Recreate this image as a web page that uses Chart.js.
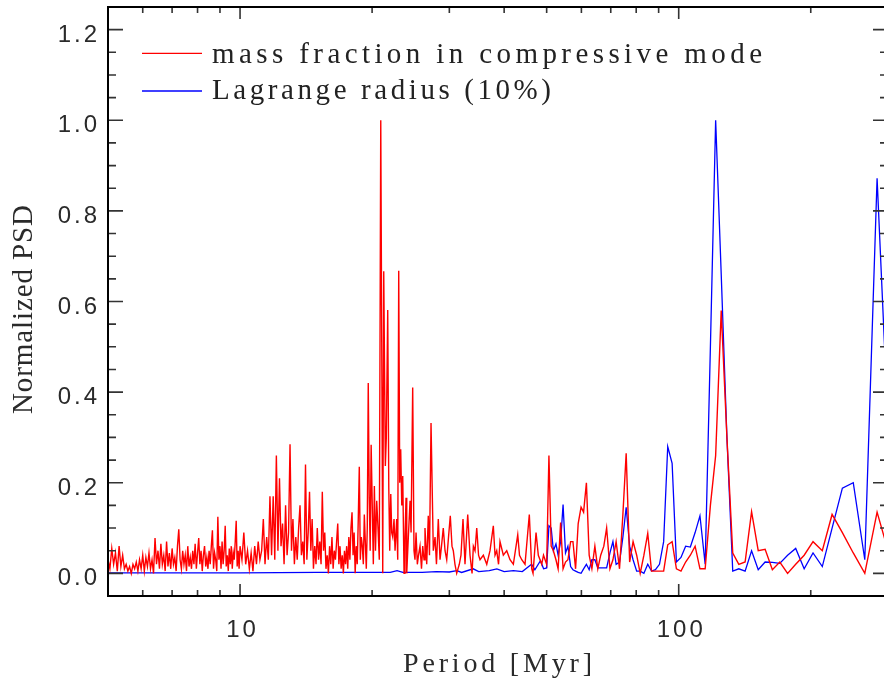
<!DOCTYPE html>
<html>
<head>
<meta charset="utf-8">
<title>Normalized PSD</title>
<script src="https://cdn.jsdelivr.net/npm/chart.js@4.4.0/dist/chart.umd.min.js"></script>
<style>
  html, body { margin: 0; padding: 0; background: #fff; overflow: hidden; }
  canvas { display: block; }
</style>
</head>
<body>
<canvas id="psd" width="892" height="682"></canvas>
<script>
// periods in Myr, PSD normalised to the highest peak
const redPeriodA = [
  5.00,5.05,5.10,5.15,5.20,5.25,5.30,5.35,5.40,5.45,
  5.50,5.55,5.60,5.65,5.70,5.75,5.80,5.85,5.90,5.95,
  6.00,6.05,6.10,6.15,6.20,6.25,6.30,6.35,6.40,6.45,
  6.50,6.55,6.60,6.65,6.70,6.75,6.80,6.85,6.90,6.95,
  7.00,7.05,7.10,7.15,7.20,7.25,7.30,7.35,7.40,7.45,
  7.50,7.55,7.60,7.65,7.70,7.75,7.80,7.85,7.90,7.95,
  8.00,8.05,8.10,8.15,8.20,8.25,8.30,8.35,8.40,8.45,
  8.50,8.55,8.60,8.65,8.70,8.75,8.80,8.85,8.90,8.95,
  9.00,9.05,9.10,9.15,9.20,9.25,9.30,9.35,9.40,9.45,
  9.50,9.55,9.60,9.65,9.70,9.75,9.80,9.85,9.90,9.95,
  10.00
];
const redPsdA = [
  0.03,0.01,0.055,0.02,0.045,0.005,0.06,0.015,0.04,0.01,
  0.02,0.005,0.015,0.0,0.02,0.01,0.025,0.005,0.03,0.01,
  0.04,0.005,0.035,0.015,0.045,0.01,0.03,0.0,0.078,0.02,
  0.05,0.01,0.065,0.02,0.04,0.005,0.07,0.015,0.045,0.01,
  0.055,0.02,0.035,0.005,0.06,0.097,0.03,0.01,0.05,0.02,
  0.04,0.005,0.06,0.015,0.035,0.01,0.05,0.02,0.065,0.01,
  0.045,0.078,0.02,0.05,0.005,0.04,0.06,0.015,0.035,0.01,
  0.05,0.02,0.06,0.095,0.01,0.045,0.03,0.005,0.125,0.03,
  0.06,0.01,0.07,0.02,0.05,0.105,0.015,0.04,0.005,0.055,
  0.02,0.06,0.01,0.045,0.03,0.07,0.116,0.015,0.05,0.01,
  0.06
];

const redPeriodB = [
  10.1,10.2,10.3,10.4,10.5,10.6,10.7,10.8,10.9,11.0,
  11.1,11.2,11.3,11.4,11.5,11.6,11.7,11.8,11.9,12.0,
  12.1,12.2,12.3,12.4,12.5,12.6,12.7,12.8,12.9,13.0,
  13.1,13.2,13.3,13.4,13.5,13.6,13.7,13.8,13.9,14.0,
  14.1,14.2,14.3,14.4,14.5,14.6,14.7,14.8,14.9,15.0,
  15.1,15.2,15.3,15.4,15.5,15.6,15.7,15.8,15.9,16.0,
  16.1,16.2,16.3,16.4,16.5,16.6,16.7,16.8,16.9,17.0,
  17.1,17.2,17.3,17.4,17.5,17.6,17.7,17.8,17.9,18.0,
  18.1,18.2,18.3,18.4,18.5,18.6,18.7,18.8,18.9,19.0,
  19.1,19.2,19.3,19.4,19.5,19.6,19.7,19.8,19.9
];
const redPsdB = [
  0.03,0.09,0.02,0.05,0.01,0.045,0.005,0.06,0.02,0.07,
  0.03,0.05,0.12,0.02,0.08,0.03,0.17,0.04,0.17,0.03,
  0.26,0.05,0.21,0.06,0.11,0.02,0.15,0.04,0.09,0.285,
  0.05,0.12,0.02,0.08,0.03,0.1,0.15,0.04,0.07,0.02,
  0.24,0.03,0.09,0.18,0.05,0.12,0.01,0.06,0.02,0.1,
  0.03,0.07,0.02,0.18,0.05,0.09,0.01,0.04,0.0,0.06,
  0.02,0.08,0.01,0.05,0.03,0.07,0.11,0.02,0.06,0.01,
  0.04,0.0,0.05,0.02,0.06,0.01,0.08,0.03,0.1,0.135,
  0.04,0.09,0.0,0.06,0.02,0.12,0.235,0.03,0.08,0.06,
  0.02,0.13,0.07,0.01,0.1,0.42,0.17,0.05,0.284
];

const redPeriodC = [
  20.13,20.24,20.36,20.49,20.63,20.77,20.93,21.15,21.26,21.44,
  21.55,21.71,21.83,21.94,22.06,22.17,22.29,22.44,22.56,22.76,
  22.88,23.00,23.12,23.24,23.37,23.49,23.65,23.77,23.90,23.99,
  24.19,24.41,24.54,24.75,24.92,25.05,25.19,25.36,25.52,25.72,
  25.92,26.09,26.27,26.40,26.64,26.86,27.03,27.25,27.58,27.83,
  28.04,28.31,28.57,28.79,29.06,29.33,29.59,29.87,30.15,30.42,
  30.63,30.90,31.18,31.61,31.89,32.23,32.57,33.04,33.44,33.80,
  34.03,34.33,34.64,34.97,35.24,35.86,36.51,37.14,37.79,38.13,
  38.47,38.84,39.14,39.83,40.55,41.25,41.98,42.96,43.36,43.87,
  44.63,45.65,46.23,46.55,47.29,47.86,48.72,49.18
];
const redPsdC = [
  0.02,0.193,0.05,0.16,0.1,0.03,1.0,0.0,0.667,0.237,
  0.3,0.581,0.19,0.05,0.175,0.09,0.08,0.12,0.05,0.12,
  0.03,0.668,0.2,0.274,0.15,0.215,0.0,0.08,0.167,0.0,
  0.08,0.16,0.09,0.41,0.05,0.03,0.09,0.02,0.04,0.06,
  0.01,0.06,0.03,0.1,0.02,0.127,0.04,0.332,0.05,0.08,
  0.02,0.12,0.03,0.06,0.1,0.05,0.03,0.08,0.127,0.06,
  0.05,0.02,0.0,0.02,0.04,0.12,0.02,0.13,0.04,0.0,
  0.06,0.05,0.1,0.04,0.03,0.04,0.02,0.05,0.105,0.04,
  0.05,0.02,0.07,0.04,0.05,0.03,0.02,0.085,0.04,0.03,
  0.02,0.13,0.01,0.0,0.09,0.04,0.02,0.04
];

// long periods, shared by both curves
const longPeriod = [
  50.0,50.6,51.2,51.8,52.5,53.1,53.8,54.5,55.2,55.9,
  56.7,57.4,58.2,59.0,59.9,60.7,61.6,62.5,63.4,64.4,
  65.4,66.4,67.5,68.5,69.7,70.8,72.0,73.3,74.6,75.9,
  77.3,78.7,80.2,81.7,83.3,85.0,86.7,88.5,90.4,92.4,
  94.4,96.6,98.8,101.2,103.7,106.3,109.0,111.8,114.9,118.1,
  121.4,125.0,128.8,132.8,137.1,141.7,146.6,151.8,157.4,163.5,
  170.0,177.1,184.8,193.2,202.4,212.5,223.7,236.1,250.0,265.6,
  283.3,303.6
];
const redPsdLong = [
  0.02,0.26,0.06,0.05,0.03,0.01,0.112,0.01,0.025,0.03,
  0.07,0.07,0.01,0.11,0.146,0.135,0.2,0.04,0.01,0.06,
  0.01,0.04,0.06,0.1,0.01,0.03,0.07,0.01,0.13,0.265,
  0.025,0.07,0.04,0.0,0.04,0.088,0.005,0.005,0.005,0.005,
  0.063,0.07,0.01,0.005,0.025,0.04,0.06,0.01,0.01,0.15,
  0.26,0.58,0.3,0.045,0.02,0.025,0.136,0.05,0.053,0.008,
  0.025,0.0,0.02,0.04,0.07,0.05,0.13,0.09,0.045,0.0,
  0.135,0.033
];
const bluePsdLong = [
  0.012,0.105,0.1,0.05,0.065,0.04,0.07,0.152,0.045,0.06,
  0.015,0.008,0.005,0.002,0.0,0.01,0.02,0.008,0.03,0.03,
  0.012,0.012,0.012,0.012,0.045,0.07,0.02,0.025,0.08,0.146,
  0.06,0.03,0.005,0.005,0.0,0.02,0.005,0.008,0.02,0.07,
  0.28,0.243,0.025,0.035,0.06,0.058,0.09,0.127,0.02,0.5,
  1.0,0.66,0.3,0.005,0.01,0.005,0.05,0.008,0.025,0.024,
  0.022,0.04,0.055,0.01,0.045,0.015,0.1,0.188,0.2,0.03,
  0.872,0.215
];

const bluePeriodA = [5.0,10.0,15.0,20.0,22.0,22.8,23.5,26.0,28.0,30.0,31.2,32.0,34.0,35.0,37.0,38.5,40.0,42.0,44.0,46.2,47.0,48.4,49.2];
const bluePsdA = [0.001,0.001,0.002,0.002,0.002,0.006,0.002,0.002,0.004,0.003,0.006,0.002,0.01,0.004,0.006,0.01,0.004,0.006,0.004,0.02,0.008,0.028,0.01];

const seriesLabels = ['mass fraction in compressive mode', 'Lagrange radius (10%)'];
const xMajorTicks = [10, 100];
const xMinorTicks = [6, 7, 8, 9, 20, 30, 40, 50, 60, 70, 80, 90, 200];
const yMajorTicks = [0, 0.2, 0.4, 0.6, 0.8, 1.0, 1.2];
const yMinorTicks = [0.05, 0.1, 0.15, 0.25, 0.3, 0.35, 0.45, 0.5, 0.55, 0.65, 0.7, 0.75, 0.85, 0.9, 0.95, 1.05, 1.1, 1.15];
const xTitle = 'Period [Myr]';
const yTitle = 'Normalized PSD';

const toPoints = (periods, values) => periods.map((p, i) => ({ x: p, y: values[i] }));

const redPoints = [].concat(
  toPoints(redPeriodA, redPsdA),
  toPoints(redPeriodB, redPsdB),
  toPoints(redPeriodC, redPsdC),
  toPoints(longPeriod, redPsdLong)
);
const bluePoints = [].concat(
  toPoints(bluePeriodA, bluePsdA),
  toPoints(longPeriod, bluePsdLong)
);

// spread text so it spans a given width (the original uses a wide vector font)
function fitText(ctx, text, x, y, width) {
  ctx.letterSpacing = '0px';
  const w = ctx.measureText(text).width;
  ctx.letterSpacing = ((width - w) / (text.length - 1)) + 'px';
  ctx.fillText(text, x, y);
}

// IDL-style box: inward ticks on all four sides, labels, titles and legend
const idlBox = {
  id: 'idlBox',
  afterDatasetsDraw(chart) {
    const { ctx, chartArea: a, scales: { x, y } } = chart;
    ctx.save();

    ctx.strokeStyle = '#333';
    ctx.lineWidth = 1.6;
    ctx.beginPath();
    const yTick = (v, len) => {
      const py = y.getPixelForValue(v);
      ctx.moveTo(a.left, py); ctx.lineTo(a.left + len, py);
      ctx.moveTo(a.right, py); ctx.lineTo(a.right - len, py);
    };
    const xTick = (v, len) => {
      const px = x.getPixelForValue(v);
      ctx.moveTo(px, a.bottom); ctx.lineTo(px, a.bottom - len);
      ctx.moveTo(px, a.top); ctx.lineTo(px, a.top + len);
    };
    yMajorTicks.forEach(v => yTick(v, 15));
    yMinorTicks.forEach(v => yTick(v, 8));
    xMajorTicks.forEach(v => xTick(v, 12));
    xMinorTicks.forEach(v => xTick(v, 6));
    ctx.stroke();

    ctx.strokeStyle = '#000';
    ctx.lineWidth = 2;
    ctx.strokeRect(a.left, a.top, a.right - a.left, a.bottom - a.top);

    // tick labels
    ctx.fillStyle = '#2a2a2a';
    ctx.font = '24px "Liberation Sans", Arial, sans-serif';
    ctx.letterSpacing = '3px';
    ctx.textBaseline = 'alphabetic';
    ctx.textAlign = 'right';
    yMajorTicks.forEach(v => {
      ctx.fillText(v.toFixed(1), a.left - 8, y.getPixelForValue(v) + 12);
    });
    ctx.textAlign = 'center';
    xMajorTicks.forEach(v => {
      ctx.fillText(String(v), x.getPixelForValue(v) + 2.5, a.bottom + 41);
    });

    // axis titles
    ctx.textAlign = 'left';
    ctx.font = '28px "Liberation Serif", "Times New Roman", serif';
    fitText(ctx, xTitle, 403, 672, 189);
    ctx.save();
    ctx.translate(31.5, 414);
    ctx.rotate(-Math.PI / 2);
    ctx.font = '29px "Liberation Serif", "Times New Roman", serif';
    fitText(ctx, yTitle, 0, 0, 209);
    ctx.restore();

    // legend
    ctx.font = '29px "Liberation Serif", "Times New Roman", serif';
    const rows = [{ line: 53.3, base: 62.7, width: 550 }, { line: 91, base: 99.3, width: 339 }];
    chart.data.datasets.forEach((ds, i) => {
      ctx.strokeStyle = ds.borderColor;
      ctx.lineWidth = 1.3;
      ctx.beginPath();
      ctx.moveTo(142, rows[i].line);
      ctx.lineTo(202, rows[i].line);
      ctx.stroke();
      ctx.fillStyle = '#222';
      fitText(ctx, ds.label, 212, rows[i].base, rows[i].width);
    });

    ctx.restore();
  }
};

new Chart(document.getElementById('psd'), {
  type: 'line',
  data: {
    datasets: [
      { label: seriesLabels[0], data: redPoints, borderColor: 'rgb(255,0,0)', borderWidth: 1.4 },
      { label: seriesLabels[1], data: bluePoints, borderColor: 'rgb(0,0,255)', borderWidth: 1.3 }
    ]
  },
  options: {
    responsive: false,
    animation: false,
    layout: { padding: { left: 108, top: 7, right: 4, bottom: 86 } },
    elements: { point: { radius: 0 }, line: { tension: 0 } },
    plugins: { legend: { display: false }, tooltip: { enabled: false } },
    scales: {
      x: { type: 'logarithmic', min: 5, max: 300, display: false },
      y: { type: 'linear', min: -0.05, max: 1.25, display: false }
    }
  },
  plugins: [idlBox]
});
</script>
</body>
</html>
